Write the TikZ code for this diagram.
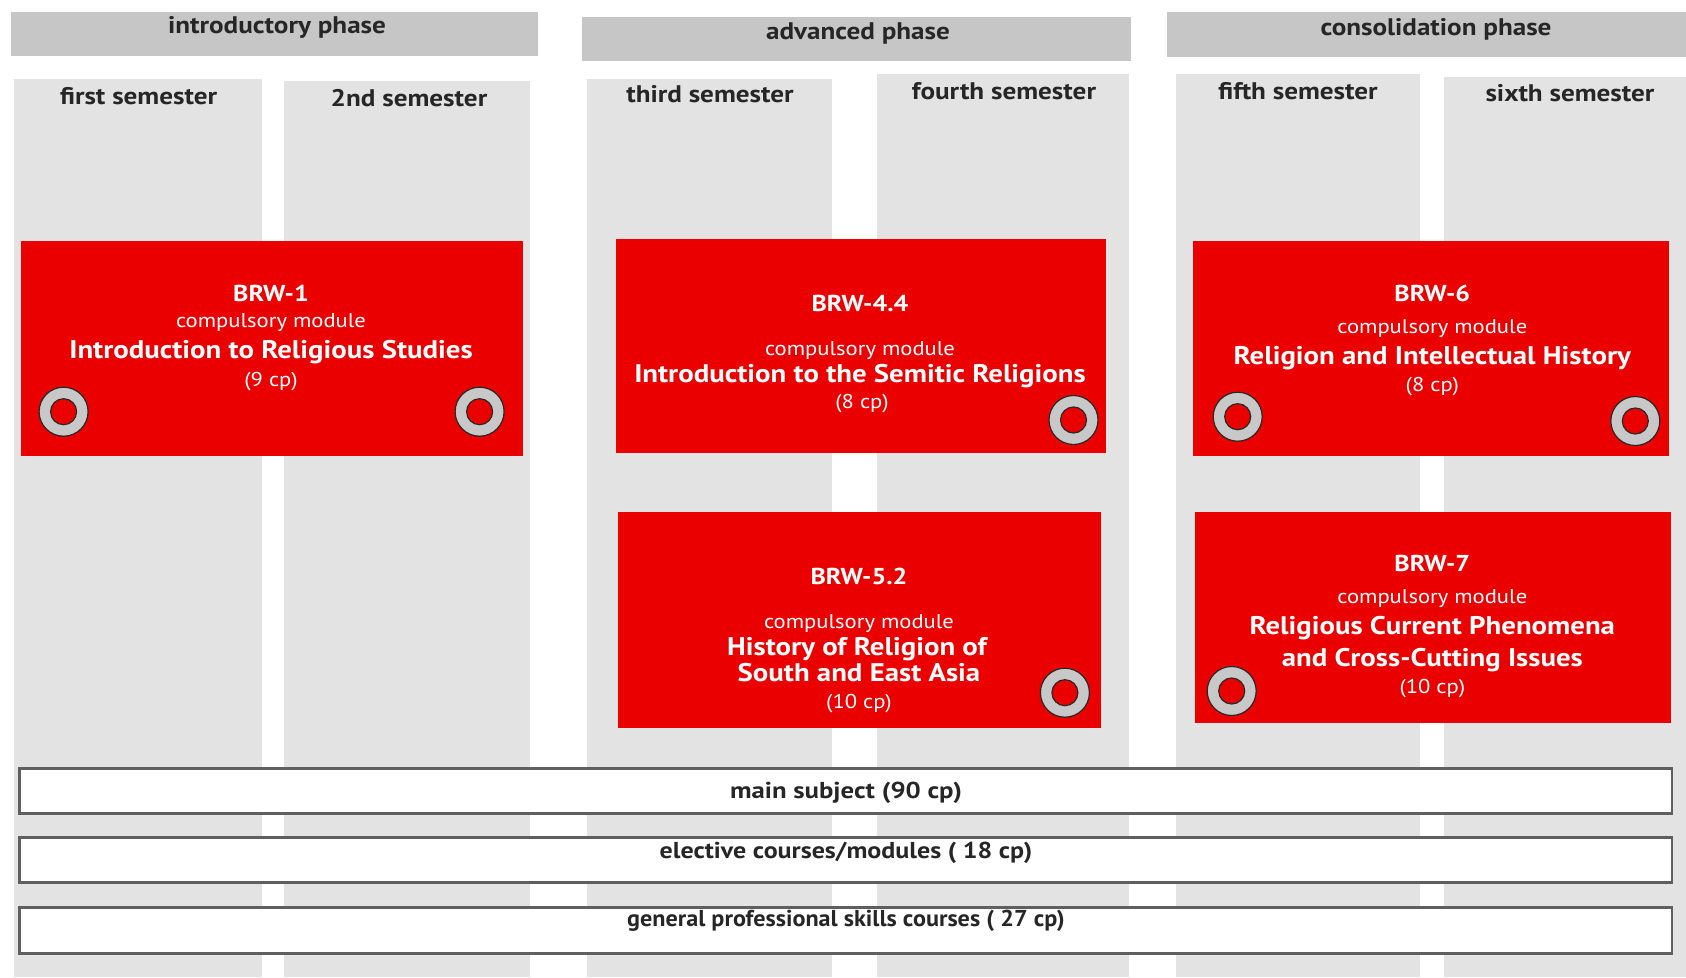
\documentclass[tikz,border=0pt]{standalone}
\usepackage{fontspec}
\setmainfont{PT Sans}[FakeStretch=1.13]
\definecolor{phasegray}{RGB}{198,198,198}
\definecolor{colgray}{RGB}{227,227,227}
\definecolor{modred}{RGB}{235,0,0}
\definecolor{ringgray}{RGB}{200,200,200}
\definecolor{ringline}{RGB}{40,40,40}
\definecolor{stripline}{RGB}{95,95,95}
\begin{document}
\begin{tikzpicture}[x=1pt,y=-1pt,
  phasebar/.style={fill=phasegray},
  semcol/.style={fill=colgray},
  modbox/.style={fill=modred},
  strip/.style={draw=stripline,line width=2.7pt,fill=white},
  hdr/.style={anchor=base,inner sep=0pt,text=black!85,font=\bfseries\fontsize{24}{28}\selectfont},
  codetxt/.style={anchor=base,inner sep=0pt,text=white,font=\bfseries\fontsize{23}{27}\selectfont},
  cmod/.style={anchor=base,inner sep=0pt,text=white,font=\fontsize{20}{24}\selectfont},
  ttl/.style={anchor=base,inner sep=0pt,text=white,font=\bfseries\fontsize{25.5}{29}\selectfont},
  cpt/.style={anchor=base,inner sep=0pt,text=white,font=\fontsize{20}{24}\selectfont},
  striptxt/.style={anchor=base,inner sep=0pt,text=black!85,font=\bfseries\fontsize{23}{27}\selectfont},
  ring/.pic={
    \fill[ringgray,even odd rule] (0,0) circle (24.5pt) (0,0) circle (13pt);
    \draw[ringline,line width=1.2pt] (0,0) circle (24.5pt) (0,0) circle (13pt);
  }
]
\useasboundingbox (0,0) rectangle (1686,977);
\fill[white] (0,0) rectangle (1686,977);

% phase bars
\fill[phasebar] (10.7,12.3) rectangle (538,55.7);
\fill[phasebar] (582,16.7) rectangle (1131,61);
\fill[phasebar] (1167,12.3) rectangle (1686,56.7);

% semester columns
\fill[semcol] (14,79) rectangle (262,977);
\fill[semcol] (284,81) rectangle (530,977);
\fill[semcol] (587,79) rectangle (832,977);
\fill[semcol] (877,74) rectangle (1129,977);
\fill[semcol] (1176,74) rectangle (1420,977);
\fill[semcol] (1444,77) rectangle (1686,977);

% headers
\node[hdr] (phI) at (277,33.3) {introductory phase};
\node[hdr] (phA) at (858,39.3) {advanced phase};
\node[hdr] (phC) at (1436,35) {consolidation phase};
\node[hdr] (s1) at (138.6,104) {first semester};
\node[hdr] (s2) at (409,106) {2nd semester};
\node[hdr] (s3) at (710,102.7) {third semester};
\node[hdr] (s4) at (1004,99.3) {fourth semester};
\node[hdr] (s5) at (1298,99.3) {fifth semester};
\node[hdr] (s6) at (1570,101.7) {sixth semester};

% module boxes
\fill[modbox] (20.7,240.7) rectangle (523,455.7);
\fill[modbox] (616,239) rectangle (1105.5,453.3);
\fill[modbox] (1193.3,241) rectangle (1669.3,455.7);
\fill[modbox] (618.3,511.7) rectangle (1101.4,728.3);
\fill[modbox] (1195,511.7) rectangle (1670.7,723.3);

% BRW-1
\node[codetxt] (m1a) at (271,301.7) {BRW-1};
\node[cmod] (m1b) at (271,327.3) {compulsory module};
\node[ttl] (m1c) at (271,358.3) {Introduction to Religious Studies};
\node[cpt] (m1d) at (271,386.7) {(9 cp)};
\pic at (63.6,411.7) {ring};
\pic at (479.6,411.7) {ring};

% BRW-4.4
\node[codetxt] (m4a) at (860,311.7) {BRW-4.4};
\node[cmod] (m4b) at (860,355.7) {compulsory module};
\node[ttl] (m4c) at (860,382.3) {Introduction to the Semitic Religions};
\node[cpt] (m4d) at (862,408.3) {(8 cp)};
\pic at (1073.5,420) {ring};

% BRW-6
\node[codetxt] (m6a) at (1432.3,301) {BRW-6};
\node[cmod] (m6b) at (1432.3,333.3) {compulsory module};
\node[ttl] (m6c) at (1432.3,364) {Religion and Intellectual History};
\node[cpt] (m6d) at (1432.3,391.7) {(8 cp)};
\pic at (1237.7,416.7) {ring};
\pic at (1635.3,421) {ring};

% BRW-5.2
\node[codetxt] (m5a) at (859,584) {BRW-5.2};
\node[cmod] (m5b) at (859,628.3) {compulsory module};
\node[ttl] (m5c) at (857,655) {History of Religion of};
\node[ttl] (m5d) at (859,681) {South and East Asia};
\node[cpt] (m5e) at (859,708.3) {(10 cp)};
\pic at (1064.9,692.7) {ring};

% BRW-7
\node[codetxt] (m7a) at (1432.3,571.7) {BRW-7};
\node[cmod] (m7b) at (1432.3,603.3) {compulsory module};
\node[ttl] (m7c) at (1432.3,634.3) {Religious Current Phenomena};
\node[ttl] (m7d) at (1432.3,666) {and Cross-Cutting Issues};
\node[cpt] (m7e) at (1432.3,693.3) {(10 cp)};
\pic at (1231.7,691) {ring};

% bottom strips
\draw[strip] (19.4,768.3) rectangle (1672,813.3);
\draw[strip] (19.4,837.3) rectangle (1672,882.7);
\draw[strip] (19.4,907.3) rectangle (1672,953.3);
\node[striptxt] (t1) at (846,798) {\scalebox{1.03}[1]{main subject (90 cp)}};
\node[striptxt] (t2) at (846,858.3) {elective courses/modules ( 18 cp)};
\node[striptxt] (t3) at (846,926.7) {\scalebox{0.93}[1]{general professional skills courses ( 27 cp)}};
\end{tikzpicture}
\end{document}
